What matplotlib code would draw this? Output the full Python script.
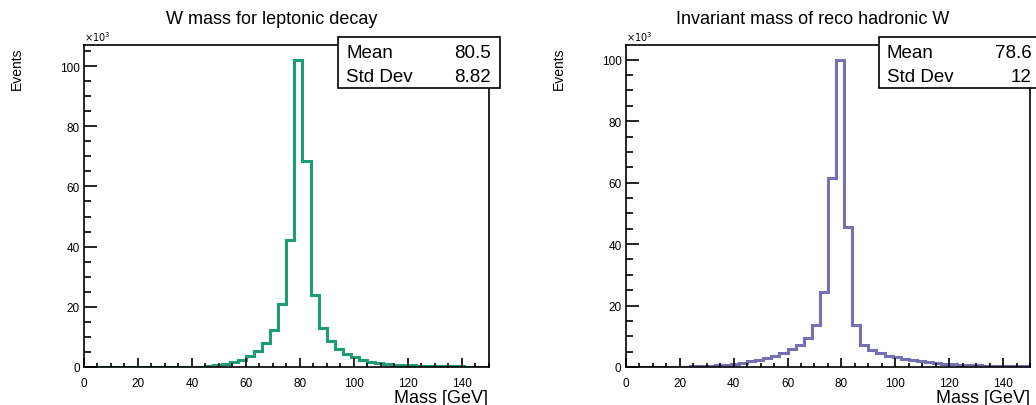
import numpy as np
import matplotlib
matplotlib.use('Agg')
from matplotlib import pyplot as plt
from matplotlib.patches import Rectangle
from matplotlib.ticker import MultipleLocator

plt.rcParams['font.family'] = ['Liberation Sans', 'DejaVu Sans']

# bin edges: 50 bins of 3 GeV from 0 to 150
edges = np.arange(0, 151, 3)

# leptonic W mass, events in thousands
lep_counts = [0.0, 0.0, 0.0, 0.0, 0.0, 0.0, 0.0, 0.0, 0.01, 0.01,
              0.02, 0.03, 0.05, 0.08, 0.12, 0.2, 0.5, 1.1, 1.7, 2.3,
              3.8, 5.3, 8.1, 12.3, 21.0, 42.3, 101.9, 68.3, 24.0, 13.0,
              8.6, 6.0, 4.3, 3.2, 2.2, 1.7, 1.2, 1.0, 0.8, 0.6,
              0.5, 0.4, 0.35, 0.3, 0.25, 0.2, 0.18, 0.15, 0.12, 0.1]

# reco hadronic W mass, events in thousands
had_counts = [0.05, 0.05, 0.05, 0.06, 0.07, 0.08, 0.1, 0.15, 0.2, 0.3,
              0.4, 0.5, 0.7, 1.0, 1.4, 1.9, 2.3, 2.8, 3.7, 4.5,
              5.7, 7.0, 9.4, 13.6, 24.3, 61.6, 99.8, 45.5, 13.7, 7.3,
              5.6, 4.5, 3.7, 3.2, 2.6, 2.2, 1.9, 1.5, 1.2, 1.0,
              0.9, 0.7, 0.6, 0.5, 0.4, 0.35, 0.3, 0.25, 0.2, 0.2]

titles = ['W mass for leptonic decay', 'Invariant mass of reco hadronic W']
stats = [('80.5', '8.82'), ('78.6', '12')]
colors = ['#1b9e77', '#7570b3']
all_counts = [lep_counts, had_counts]

W, H = 1036, 406
fig = plt.figure(figsize=(W / 100, H / 100), dpi=100)

ax_left = [84, 625.7]
ax_w = 404.5
ax_top, ax_bot = 46, 368
title_x = [272, 813]
box_x = [338, 879]

for k in range(2):
    ax = fig.add_axes([ax_left[k] / W, 1 - ax_bot / H, ax_w / W, (ax_bot - ax_top) / H])
    counts = np.array(all_counts[k])
    ax.stairs(counts, edges, color=colors[k], linewidth=2.2)
    ax.set_xlim(0, 150)
    ax.set_ylim(0, counts.max() * 1.05)

    ax.xaxis.set_major_locator(MultipleLocator(20))
    ax.xaxis.set_minor_locator(MultipleLocator(5))
    ax.yaxis.set_major_locator(MultipleLocator(20))
    ax.yaxis.set_minor_locator(MultipleLocator(5))
    ax.tick_params(which='both', direction='in', top=False, right=False,
                   labelsize=8.5, width=1.2)
    ax.tick_params(axis='x', which='major', length=6.5, pad=7)
    ax.tick_params(axis='x', which='minor', length=3)
    ax.tick_params(axis='y', which='major', length=9.5, pad=3)
    ax.tick_params(axis='y', which='minor', length=5)
    for s in ax.spines.values():
        s.set_linewidth(1.2)

    ax.text(0, 1.005, r'$\times10^{3}$', transform=ax.transAxes,
            fontsize=7, ha='left', va='bottom')

    fig.text(title_x[k] / W, 1 - 20 / H, titles[k], fontsize=13,
             ha='center', va='center')
    fig.text((ax_left[k] + ax_w) / W, 1 - 403 / H, 'Mass [GeV]', fontsize=13,
             ha='right', va='baseline')
    fig.text((ax_left[k] - 67) / W, 1 - 47 / H, 'Events', fontsize=10,
             rotation=90, ha='center', va='top')

    # stat box
    bx = box_x[k]
    rect = Rectangle((bx / W, 1 - 89 / H), 162 / W, 51 / H, transform=fig.transFigure,
                     facecolor='white', edgecolor='black', linewidth=1.2,
                     zorder=10, clip_on=False)
    fig.patches.append(rect)
    fig.text((bx + 8) / W, 1 - 58 / H, 'Mean', fontsize=13.5, ha='left',
             va='baseline', zorder=11)
    fig.text((bx + 153) / W, 1 - 58 / H, stats[k][0], fontsize=13.5, ha='right',
             va='baseline', zorder=11)
    fig.text((bx + 8) / W, 1 - 82 / H, 'Std Dev', fontsize=13.5, ha='left',
             va='baseline', zorder=11)
    fig.text((bx + 153) / W, 1 - 82 / H, stats[k][1], fontsize=13.5, ha='right',
             va='baseline', zorder=11)

fig.savefig('out.png', dpi=100)
